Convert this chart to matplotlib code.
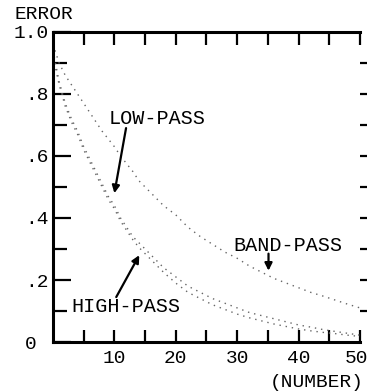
import matplotlib
matplotlib.use("Agg")
import matplotlib.pyplot as plt
from matplotlib.transforms import ScaledTranslation

plt.rcParams["font.family"] = ["Liberation Mono", "DejaVu Sans Mono"]

# sample numbers (x) and error values
num = [0, 1, 2, 3, 4, 5, 6, 7, 8, 9, 10, 11, 12, 13, 14, 15, 16, 18, 20,
       22, 24, 26, 28, 30, 32, 34, 36, 38, 40, 42, 44, 46, 48, 50]
band_pass = [0.96, 0.90, 0.86, 0.83, 0.80, 0.77, 0.74, 0.71, 0.68, 0.655, 0.63,
             0.60, 0.575, 0.55, 0.52, 0.50, 0.48, 0.44, 0.41, 0.37, 0.34, 0.315,
             0.29, 0.27, 0.245, 0.225, 0.205, 0.19, 0.175, 0.16, 0.148, 0.135,
             0.122, 0.11]
low_pass = [0.94, 0.84, 0.77, 0.72, 0.68, 0.63, 0.59, 0.55, 0.51, 0.47, 0.44,
            0.40, 0.37, 0.34, 0.32, 0.30, 0.28, 0.24, 0.21, 0.18, 0.16, 0.14,
            0.125, 0.11, 0.095, 0.085, 0.075, 0.065, 0.055, 0.048, 0.04, 0.034,
            0.028, 0.022]
high_pass = [0.92, 0.83, 0.76, 0.71, 0.67, 0.62, 0.58, 0.54, 0.50, 0.46, 0.43,
             0.39, 0.36, 0.33, 0.305, 0.285, 0.265, 0.225, 0.19, 0.16, 0.14,
             0.12, 0.105, 0.09, 0.078, 0.068, 0.058, 0.05, 0.042, 0.036, 0.031,
             0.027, 0.022, 0.018]

yticks = [0, 0.2, 0.4, 0.6, 0.8, 1.0]
ylabels = ["0 ", ".2", ".4", ".6", ".8", "1.0"]
xticks = [10, 20, 30, 40, 50]

fig = plt.figure(figsize=(3.67, 3.91), dpi=100)
ax = fig.add_axes([0.1444, 0.1253, 0.8365, 0.7929])

for ys in (band_pass, low_pass, high_pass):
    ax.plot(num, ys, color="#666666", lw=1.0, dashes=(1, 3.5))

ax.set_xlim(0, 50)
ax.set_ylim(0, 1.0)

ax.spines["right"].set_visible(False)
for s in ("left", "bottom", "top"):
    ax.spines[s].set_linewidth(2.2)

ax.set_xticks(range(5, 51, 5))
ax.set_xticklabels([str(v) if v in xticks else "" for v in range(5, 51, 5)],
                   fontsize=14)
ax.tick_params(axis="x", which="major", direction="in", length=9, width=1.6,
               top=True, pad=6)
# last label sits against the right edge of the page
last = ax.get_xticklabels()[-1]
last.set_transform(last.get_transform() + ScaledTranslation(-4 / 100, 0, fig.dpi_scale_trans))

ax.set_yticks(yticks)
ax.set_yticklabels(ylabels, fontsize=14)
ax.set_yticks([0.1, 0.3, 0.5, 0.7, 0.9], minor=True)
ax.tick_params(axis="y", which="major", direction="in", length=13, width=1.6, pad=3)
ax.tick_params(axis="y", which="minor", direction="in", length=10, width=1.6)

sec = ax.secondary_yaxis("right")
sec.set_yticks([0.1, 0.2, 0.3, 0.4, 0.5, 0.6, 0.7, 0.8, 0.9])
sec.set_yticklabels([])
sec.tick_params(direction="out", length=6, width=1.6)
sec.spines["right"].set_visible(False)

fig.text(0.04, 0.962, "ERROR", fontsize=14, va="center", ha="left")
fig.text(0.99, 0.023, "(NUMBER)", fontsize=14, va="center", ha="right")

arrow = dict(arrowstyle="-|>", lw=1.6, color="black", mutation_scale=11,
             shrinkA=0, shrinkB=0)
ax.text(9.0, 0.72, "LOW-PASS", fontsize=14.5, va="center", ha="left")
ax.annotate("", xy=(10.0, 0.48), xytext=(11.9, 0.69), arrowprops=arrow)
ax.text(3.0, 0.116, "HIGH-PASS", fontsize=14.5, va="center", ha="left")
ax.annotate("", xy=(14.05, 0.28), xytext=(10.3, 0.145), arrowprops=arrow)
ax.text(29.3, 0.31, "BAND-PASS", fontsize=14.5, va="center", ha="left")
ax.annotate("", xy=(35.1, 0.23), xytext=(35.1, 0.285), arrowprops=arrow)

fig.savefig("out.png", dpi=100)
